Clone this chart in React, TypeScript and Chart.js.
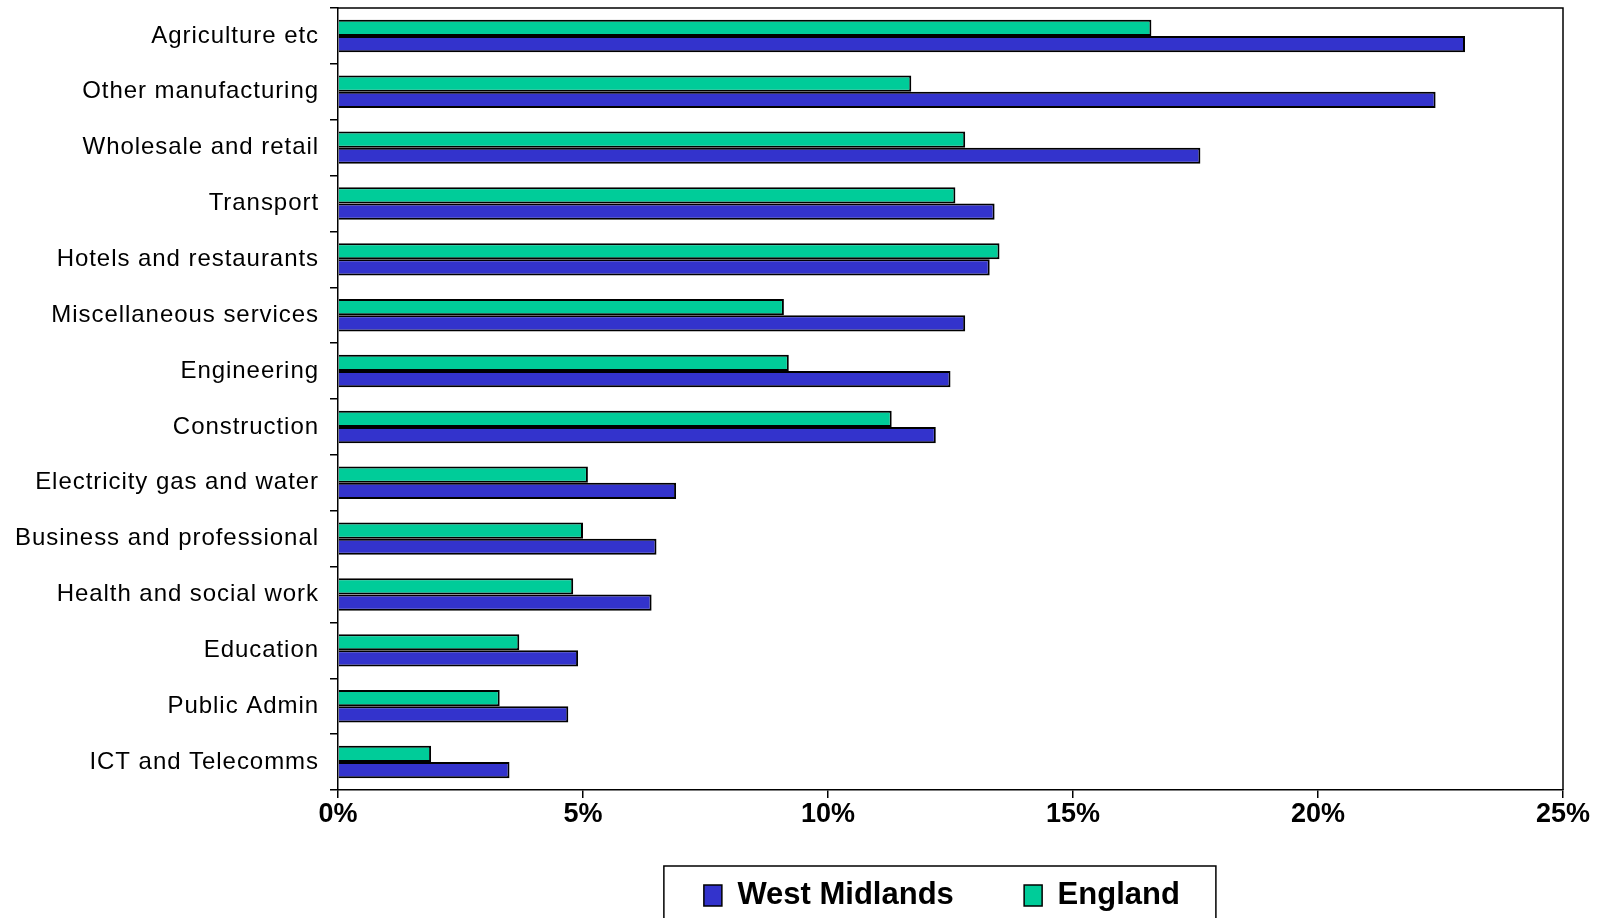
import React, { useEffect, useRef } from "react";
import { Chart, registerables } from "chart.js";

Chart.register(...registerables);

const categories = [
  "Agriculture etc",
  "Other manufacturing",
  "Wholesale and retail",
  "Transport",
  "Hotels and restaurants",
  "Miscellaneous services",
  "Engineering",
  "Construction",
  "Electricity gas and water",
  "Business and professional",
  "Health and social work",
  "Education",
  "Public Admin",
  "ICT and Telecomms",
];

const westMidlands = [23.0, 22.4, 17.6, 13.4, 13.3, 12.8, 12.5, 12.2, 6.9, 6.5, 6.4, 4.9, 4.7, 3.5];
const england = [16.6, 11.7, 12.8, 12.6, 13.5, 9.1, 9.2, 11.3, 5.1, 5.0, 4.8, 3.7, 3.3, 1.9];

const xTicks = [0, 5, 10, 15, 20, 25];

const BLUE = "#3333CC";
const GREEN = "#00CC99";
const FONT = "'Liberation Sans', Arial, sans-serif";
const LEGEND_SIZE = 31;

const framePlugin = {
  id: "frame",
  afterDraw(chart: any) {
    const { ctx, chartArea } = chart;
    ctx.save();
    ctx.strokeStyle = "#000";
    ctx.lineWidth = 1.5;
    ctx.beginPath();
    ctx.moveTo(chartArea.left, chartArea.top);
    ctx.lineTo(chartArea.right, chartArea.top);
    ctx.lineTo(chartArea.right, chartArea.bottom);
    ctx.stroke();
    ctx.restore();
  },
};

const legendBoxPlugin = {
  id: "legendBox",
  afterDraw(chart: any) {
    const lg = chart.legend;
    if (!lg || !lg.legendHitBoxes || !lg.legendHitBoxes.length) return;
    const boxes = lg.legendHitBoxes;
    const items = lg.legendItems;
    const { ctx } = chart;
    ctx.save();
    ctx.font = "bold " + LEGEND_SIZE + "px " + FONT;
    let l = Infinity, r = -Infinity, t = Infinity;
    boxes.forEach((b: any, i: number) => {
      l = Math.min(l, b.left);
      const txt = String(items[i].text).trim();
      const end = b.left + 18 + LEGEND_SIZE / 2 + ctx.measureText(txt).width;
      r = Math.max(r, end);
      t = Math.min(t, b.top);
    });
    ctx.strokeStyle = "#000";
    ctx.lineWidth = 1.5;
    ctx.strokeRect(l - 40, t - 14, r - l + 40 + 36, 100);
    ctx.restore();
  },
};

export default function App() {
  const ref = useRef<HTMLCanvasElement | null>(null);

  useEffect(() => {
    document.body.style.margin = "0";
    const c = ref.current;
    if (!c) return;
    const chart = new Chart(c, {
      type: "bar",
      data: {
        labels: categories,
        datasets: [
          {
            label: "England",
            data: england,
            backgroundColor: GREEN,
            borderColor: "#000",
            borderWidth: 2,
            categoryPercentage: 0.58,
            barPercentage: 1.0,
          },
          {
            label: "West Midlands",
            data: westMidlands,
            backgroundColor: BLUE,
            borderColor: "#000",
            borderWidth: 2,
            categoryPercentage: 0.58,
            barPercentage: 1.0,
          },
        ],
      },
      options: {
        indexAxis: "y",
        animation: false,
        responsive: false,
        maintainAspectRatio: false,
        layout: { padding: { top: 8, right: 35, left: 0, bottom: -3 } },
        scales: {
          x: {
            min: 0,
            max: 25,
            afterBuildTicks(scale: any) {
              scale.ticks = xTicks.map((v) => ({ value: v }));
            },
            afterFit(scale: any) {
              scale.height = 80;
            },
            ticks: {
              callback: (v: any) => v + "%",
              color: "#000",
              font: { family: FONT, size: 27, weight: "bold" },
              padding: 0,
              maxRotation: 0,
            },
            grid: {
              drawOnChartArea: false,
              drawTicks: true,
              tickLength: 8,
              color: "#000",
              lineWidth: 1.5,
            },
            border: { color: "#000", width: 1.5 },
          },
          y: {
            afterFit(scale: any) {
              scale.width = 338;
              scale.paddingTop = 0;
              scale.paddingBottom = 0;
            },
            afterUpdate(scale: any) {
              if (!scale._lsWrapped) {
                const orig = scale.drawLabels.bind(scale);
                scale.drawLabels = (area: any) => {
                  const ctx = scale.ctx;
                  ctx.save();
                  ctx.letterSpacing = "0.95px";
                  orig(area);
                  ctx.restore();
                };
                scale._lsWrapped = true;
              }
            },
            ticks: {
              color: "#000",
              font: { family: FONT, size: 24 },
              padding: 11,
            },
            grid: {
              offset: true,
              drawOnChartArea: false,
              drawTicks: true,
              tickLength: 8,
              color: "#000",
              lineWidth: 1.5,
            },
            border: { color: "#000", width: 1.5 },
          },
        },
        plugins: {
          tooltip: { enabled: false },
          legend: {
            position: "bottom",
            fullSize: false,
            reverse: true,
            labels: {
              color: "#000",
              font: { family: FONT, size: LEGEND_SIZE, weight: "bold" },
              boxWidth: 18,
              boxHeight: 21,
              padding: 10,
              generateLabels(chart: any) {
                return chart.data.datasets.map((ds: any, i: number) => ({
                  text: ds.label + (i === 1 ? "       " : "  "),
                  fillStyle: ds.backgroundColor,
                  strokeStyle: "#000",
                  lineWidth: 1.5,
                  fontColor: "#000",
                  datasetIndex: i,
                  hidden: false,
                }));
              },
            },
          },
        },
      } as any,
      plugins: [framePlugin, legendBoxPlugin],
    });
    return () => chart.destroy();
  }, []);

  return (
    <div style={{ width: 1598, height: 918, background: "#fff", overflow: "hidden" }}>
      <canvas ref={ref} width={1598} height={918} style={{ display: "block" }} />
    </div>
  );
}
